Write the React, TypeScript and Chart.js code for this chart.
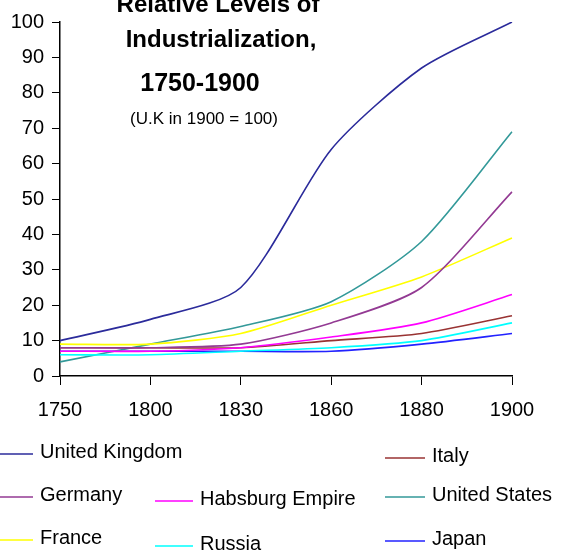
import React, { useEffect, useRef } from "react";
import { Chart, registerables } from "chart.js";
Chart.register(...registerables);

const years = ["1750", "1800", "1830", "1860", "1880", "1900"];
const unitedKingdom = [10, 16, 25, 64, 87, 100];
const germany = [8, 8, 9, 15, 25, 52];
const france = [9, 9, 12, 20, 28, 39];
const habsburgEmpire = [7, 7, 8, 11, 15, 23];
const russia = [6, 6, 7, 8, 10, 15];
const italy = [8, 8, 8, 10, 12, 17];
const unitedStates = [4, 9, 14, 21, 38, 69];
const japan = [7, 7, 7, 7, 9, 12];

const titleLines = ["Relative Levels of", "Industrialization,", "1750-1900"];
const subtitle = "(U.K in 1900 = 100)";

const FONT = "'Liberation Sans', Arial, sans-serif";

const series = [
  { label: "United Kingdom", data: unitedKingdom, color: "#2B2B9B" },
  { label: "Germany", data: germany, color: "#933A93" },
  { label: "France", data: france, color: "#FFFF00" },
  { label: "Habsburg Empire", data: habsburgEmpire, color: "#FF00FF" },
  { label: "Russia", data: russia, color: "#00FFFF" },
  { label: "Italy", data: italy, color: "#993333" },
  { label: "United States", data: unitedStates, color: "#339999" },
  { label: "Japan", data: japan, color: "#2222FF" },
];

// legend layout (label -> line start x, line end x, y)
const legendLayout: Record<string, [number, number, number]> = {
  "United Kingdom": [0, 33, 454],
  Italy: [385, 425, 458],
  Germany: [0, 33, 497],
  "Habsburg Empire": [155, 193, 501],
  "United States": [385, 425, 497],
  France: [0, 33, 540],
  Russia: [155, 193, 546],
  Japan: [385, 425, 541],
};

const overlayPlugin = {
  id: "overlay",
  afterDraw(chart: any) {
    const ctx = chart.ctx as CanvasRenderingContext2D;
    ctx.save();
    ctx.fillStyle = "#000";
    ctx.textAlign = "center";
    ctx.textBaseline = "alphabetic";
    ctx.font = `bold 24px ${FONT}`;
    ctx.fillText(titleLines[0], 218, 12);
    ctx.fillText(titleLines[1], 221, 47);
    ctx.font = `bold 25px ${FONT}`;
    ctx.fillText(titleLines[2], 200, 91);
    ctx.font = `17px ${FONT}`;
    ctx.fillText(subtitle, 204, 124);

    ctx.textAlign = "left";
    ctx.textBaseline = "middle";
    ctx.font = `20px ${FONT}`;
    series.forEach((s) => {
      const pos = legendLayout[s.label];
      if (!pos) return;
      const [x0, x1, y] = pos;
      ctx.strokeStyle = s.color;
      ctx.lineWidth = 1.5;
      ctx.beginPath();
      ctx.moveTo(x0, y);
      ctx.lineTo(x1, y);
      ctx.stroke();
      ctx.fillStyle = "#000";
      ctx.fillText(s.label, x1 + 7, y - 2);
    });
    ctx.restore();
  },
};

export default function App() {
  const ref = useRef<HTMLCanvasElement | null>(null);
  useEffect(() => {
    if (!ref.current) return;
    const chart = new Chart(ref.current, {
      type: "line",
      data: {
        labels: years,
        datasets: series.map((s) => ({
          label: s.label,
          data: s.data,
          borderColor: s.color,
          backgroundColor: s.color,
          borderWidth: 1.6,
          pointRadius: 0,
          tension: 0.25,
          fill: false,
        })),
      },
      options: {
        animation: false,
        responsive: true,
        maintainAspectRatio: false,
        layout: { padding: { left: 0, right: 52, top: 22, bottom: 0 } },
        plugins: {
          legend: { display: false },
          tooltip: { enabled: false },
          title: { display: false },
        },
        scales: {
          x: {
            type: "category",
            offset: false,
            grid: {
              display: true,
              drawOnChartArea: false,
              drawTicks: true,
              tickLength: 9,
              color: "#000",
            },
            border: { color: "#000", width: 1.5 },
            ticks: {
              color: "#000",
              font: { size: 20, family: FONT },
              padding: 13,
              maxRotation: 0,
              autoSkip: false,
            },
            afterFit: (s: any) => {
              s.height = 179;
            },
          },
          y: {
            min: 0,
            max: 100,
            grid: {
              display: true,
              drawOnChartArea: false,
              drawTicks: true,
              tickLength: 8,
              color: "#000",
            },
            border: { color: "#000", width: 1.5 },
            ticks: {
              stepSize: 10,
              color: "#000",
              font: { size: 20, family: FONT },
              padding: 8,
            },
            afterFit: (s: any) => {
              s.width = 60;
            },
          },
        },
      },
      plugins: [overlayPlugin],
    });
    return () => chart.destroy();
  }, []);
  return (
    <div
      style={{
        position: "absolute",
        left: 0,
        top: 0,
        width: 564,
        height: 555,
        background: "#fff",
      }}
    >
      <canvas ref={ref} />
    </div>
  );
}
